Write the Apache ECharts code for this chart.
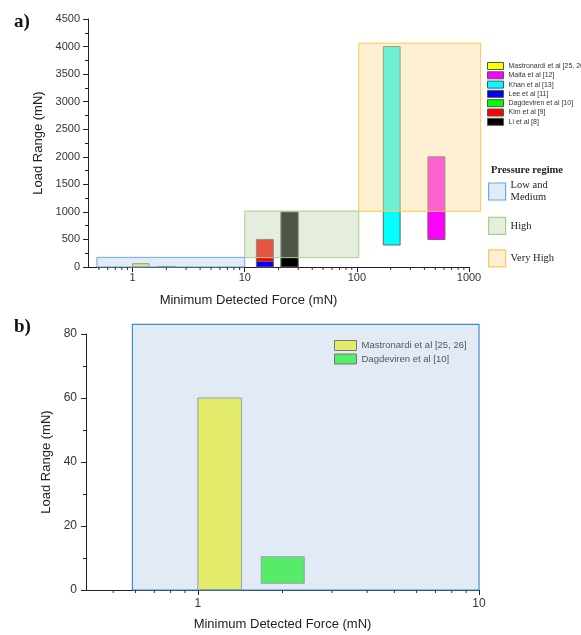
<!DOCTYPE html>
<html><head><meta charset="utf-8">
<script src="https://cdn.jsdelivr.net/npm/echarts@6/dist/echarts.min.js"></script>
<style>html,body{margin:0;padding:0;background:#fff}#c{width:581px;height:635px}</style>
</head><body><div id="c"></div>
<script>
// ---------- Panel a data ----------
const studies = ['Mastronardi et al [25, 26]', 'Maita et al [12]', 'Khan et al [13]', 'Lee et al [11]', 'Dagdeviren et al [10]', 'Kim et al [9]', 'Li et al [8]'];
const forceMinA = [1.0, 430, 172, 12.7, 1.68, 12.7, 21];
const forceMaxA = [1.4, 610, 243, 18, 2.39, 18, 30];
const loadMinA = [0, 500, 400, 0, 2, 100, 0];
const loadMaxA = [60, 2000, 4000, 100, 10.4, 500, 1000];

const regimes = ['Low and Medium', 'High', 'Very High'];
const regimeForceMinA = [0.48, 10, 104];
const regimeForceMaxA = [10, 104, 1270];
const regimeLoadMinA = [0, 170, 1010];
const regimeLoadMaxA = [175, 1015, 4060];

// ---------- Panel b data ----------
const studiesB = ['Mastronardi et al [25, 26]', 'Dagdeviren et al [10]'];
const forceMinB = [1.0, 1.68];
const forceMaxB = [1.43, 2.39];
const loadMinB = [0, 2.1];
const loadMaxB = [60, 10.4];
const regimeForceMinB = [0.585];
const regimeForceMaxB = [10];
const regimeLoadMinB = [0];
const regimeLoadMaxB = [83];

// ---------- Axis ticks ----------
const xMinorTicksA = [0.5, 0.6, 0.7, 0.8, 0.9, 2, 3, 4, 5, 6, 7, 8, 9, 20, 30, 40, 50, 60, 70, 80, 90, 200, 300, 400, 500, 600, 700, 800, 900];
const xMinorTicksB = [0.5, 0.6, 0.7, 0.8, 0.9, 2, 3, 4, 5, 6, 7, 8, 9];

// ---------- styles ----------
const studyColor = {
  'Mastronardi et al [25, 26]': '#ffff00', 'Maita et al [12]': '#ff00ff', 'Khan et al [13]': '#00ffff',
  'Lee et al [11]': '#0000ff', 'Dagdeviren et al [10]': '#00ff00', 'Kim et al [9]': '#ff0000', 'Li et al [8]': '#000000'
};
const regimeStyleA = [
  { fill: 'rgba(191,211,233,0.455)', stroke: '#6fa8dc', icon: '#e2ebf5' },
  { fill: 'rgba(190,212,172,0.40)', stroke: '#a8d08d', icon: '#e4eedc' },
  { fill: 'rgba(250,220,152,0.44)', stroke: '#fcc955', icon: '#fdf0d2' }
];
const SANS = 'Liberation Sans, Arial, sans-serif';
const SERIF = 'Liberation Serif, Times New Roman, serif';

function rectRenderer(fill, stroke, lw) {
  return function (params, api) {
    const a = api.coord([api.value(0), api.value(3)]);
    const b = api.coord([api.value(1), api.value(2)]);
    return { type: 'rect', shape: { x: a[0], y: a[1], width: b[0] - a[0], height: b[1] - a[1] },
      style: { fill: fill, stroke: stroke, lineWidth: lw } };
  };
}
function minorTickRenderer(params, api) {
  const p = api.coord([api.value(0), api.value(1)]);
  return { type: 'line', shape: { x1: p[0], y1: p[1], x2: p[0], y2: p[1] + 3 }, style: { stroke: '#333', lineWidth: 1 } };
}
function plainNum(v) { return String(+Number(v).toPrecision(8)); }

const series = [];
// panel a bars
studies.forEach(function (s, i) {
  series.push({ type: 'custom', name: s, xAxisIndex: 0, yAxisIndex: 0, clip: false, silent: true,
    encode: { x: [0, 1], y: [2, 3] },
    itemStyle: { color: studyColor[s] },
    renderItem: rectRenderer(studyColor[s], '#666', 1),
    data: [[forceMinA[i], forceMaxA[i], loadMinA[i], loadMaxA[i]]] });
});
// panel a regime boxes
regimes.forEach(function (r, i) {
  series.push({ type: 'custom', name: r, xAxisIndex: 0, yAxisIndex: 0, clip: false, silent: true,
    encode: { x: [0, 1], y: [2, 3] },
    itemStyle: { color: regimeStyleA[i].icon },
    renderItem: rectRenderer(regimeStyleA[i].fill, regimeStyleA[i].stroke, 1),
    data: [[regimeForceMinA[i], regimeForceMaxA[i], regimeLoadMinA[i], regimeLoadMaxA[i]]] });
});
// panel b bars
studiesB.forEach(function (s, i) {
  series.push({ type: 'custom', name: s, xAxisIndex: 1, yAxisIndex: 1, clip: false, silent: true,
    encode: { x: [0, 1], y: [2, 3] },
    itemStyle: { color: studyColor[s] },
    renderItem: rectRenderer(studyColor[s], '#777', 1),
    data: [[forceMinB[i], forceMaxB[i], loadMinB[i], loadMaxB[i]]] });
});
// panel b regime box
series.push({ type: 'custom', name: regimes[0], xAxisIndex: 1, yAxisIndex: 1, clip: false, silent: true,
  encode: { x: [0, 1], y: [2, 3] },
  itemStyle: { color: regimeStyleA[0].icon },
  renderItem: rectRenderer('rgba(191,211,233,0.455)', '#3f8bd6', 1.2),
  data: [[regimeForceMinB[0], regimeForceMaxB[0], regimeLoadMinB[0], regimeLoadMaxB[0]]] });
// minor ticks
series.push({ type: 'custom', xAxisIndex: 0, yAxisIndex: 0, clip: false, silent: true, encode: { x: 0, y: 1 },
  renderItem: minorTickRenderer, data: xMinorTicksA.map(function (v) { return [v, 0]; }) });
series.push({ type: 'custom', xAxisIndex: 1, yAxisIndex: 1, clip: false, silent: true, encode: { x: 0, y: 1 },
  renderItem: minorTickRenderer, data: xMinorTicksB.map(function (v) { return [v, 0]; }) });

function xAxisCfg(gridIndex, max, fontSize, margin, nameGap, namePad) {
  return { type: 'log', gridIndex: gridIndex, min: 0.4, max: max, logBase: 10,
    name: 'Minimum Detected Force (mN)', nameLocation: 'middle', nameGap: nameGap,
    nameTextStyle: { fontFamily: SANS, fontSize: 13, color: '#222', padding: namePad },
    axisLine: { show: true, onZero: false, lineStyle: { color: '#222', width: 1 } },
    axisTick: { show: true, inside: false, length: 5, lineStyle: { color: '#222' } },
    axisLabel: { showMinLabel: false, fontFamily: SANS, fontSize: fontSize, color: '#333', margin: margin, formatter: plainNum },
    splitLine: { show: false }, minorTick: { show: false }, minorSplitLine: { show: false } };
}
function yAxisCfg(gridIndex, max, interval, fontSize, margin, nameGap) {
  return { type: 'value', gridIndex: gridIndex, min: 0, max: max, interval: interval,
    name: 'Load Range (mN)', nameLocation: 'middle', nameGap: nameGap,
    nameTextStyle: { fontFamily: SANS, fontSize: 13, color: '#222' },
    axisLine: { show: true, onZero: false, lineStyle: { color: '#222', width: 1 } },
    axisTick: { show: true, inside: false, length: 5, lineStyle: { color: '#222' } },
    minorTick: { show: true, splitNumber: 2, length: 3, lineStyle: { color: '#222' } },
    axisLabel: { fontFamily: SANS, fontSize: fontSize, color: '#333', margin: margin, formatter: plainNum },
    splitLine: { show: false } };
}

const legendA = {
  orient: 'vertical', left: 487, top: 62, padding: 0, itemWidth: 16, itemHeight: 7, itemGap: 1.3,
  icon: 'rect', selectedMode: false,
  textStyle: { fontFamily: SANS, fontSize: 7, lineHeight: 7, color: '#333' },
  data: studies.map(function (s) { return { name: s, icon: 'rect', itemStyle: { color: studyColor[s], borderColor: '#555', borderWidth: 1 } }; })
};
const regimeLegendTops = [173.5, 216.7, 249.3];
const regimeLegends = regimes.map(function (r, i) {
  return { orient: 'vertical', left: 488, top: regimeLegendTops[i], padding: 0, itemWidth: 17, itemHeight: 17,
    selectedMode: false, icon: 'rect',
    formatter: function (n) { return n === 'Low and Medium' ? 'Low and\nMedium' : n; },
    textStyle: { fontFamily: SERIF, fontSize: 10.5, lineHeight: 12, color: '#222', padding: i === 0 ? [12, 0, 0, 0] : 0 },
    data: [{ name: r, icon: 'rect', itemStyle: { color: regimeStyleA[i].icon, borderColor: regimeStyleA[i].stroke, borderWidth: 1.2 } }] };
});
const legendB = {
  orient: 'vertical', left: 334, top: 340, padding: 0, itemWidth: 22, itemHeight: 10, itemGap: 2.5,
  icon: 'rect', selectedMode: false,
  textStyle: { fontFamily: SANS, fontSize: 9.5, color: '#555' },
  data: [
    { name: studiesB[0], icon: 'rect', itemStyle: { color: '#e2eb6a', borderColor: '#777', borderWidth: 1 } },
    { name: studiesB[1], icon: 'rect', itemStyle: { color: '#57eb6a', borderColor: '#777', borderWidth: 1 } }
  ]
};

const option = {
  backgroundColor: '#ffffff',
  animation: false,
  grid: [
    { left: 88, top: 19, width: 381, height: 248, containLabel: false },
    { left: 86, top: 334, width: 393, height: 256, containLabel: false }
  ],
  xAxis: [ xAxisCfg(0, 1000, 11, 5, 27, [0, 60, 0, 0]), xAxisCfg(1, 10, 12, 8, 28, 0) ],
  yAxis: [ yAxisCfg(0, 4500, 500, 11, 8, 41), yAxisCfg(1, 80, 20, 12, 9, 32) ],
  legend: [legendA].concat(regimeLegends).concat([legendB]),
  graphic: [
    { type: 'text', left: 14, top: 13, style: { text: 'a)', font: 'bold 19px ' + SERIF, fill: '#111' } },
    { type: 'text', left: 14, top: 318, style: { text: 'b)', font: 'bold 19px ' + SERIF, fill: '#111' } },
    { type: 'text', left: 491, top: 165, style: { text: 'Pressure regime', font: 'bold 10.5px ' + SERIF, fill: '#222' } }
  ],
  series: series
};
const chart = echarts.init(document.getElementById('c'));
chart.setOption(option);
</script></body></html>
